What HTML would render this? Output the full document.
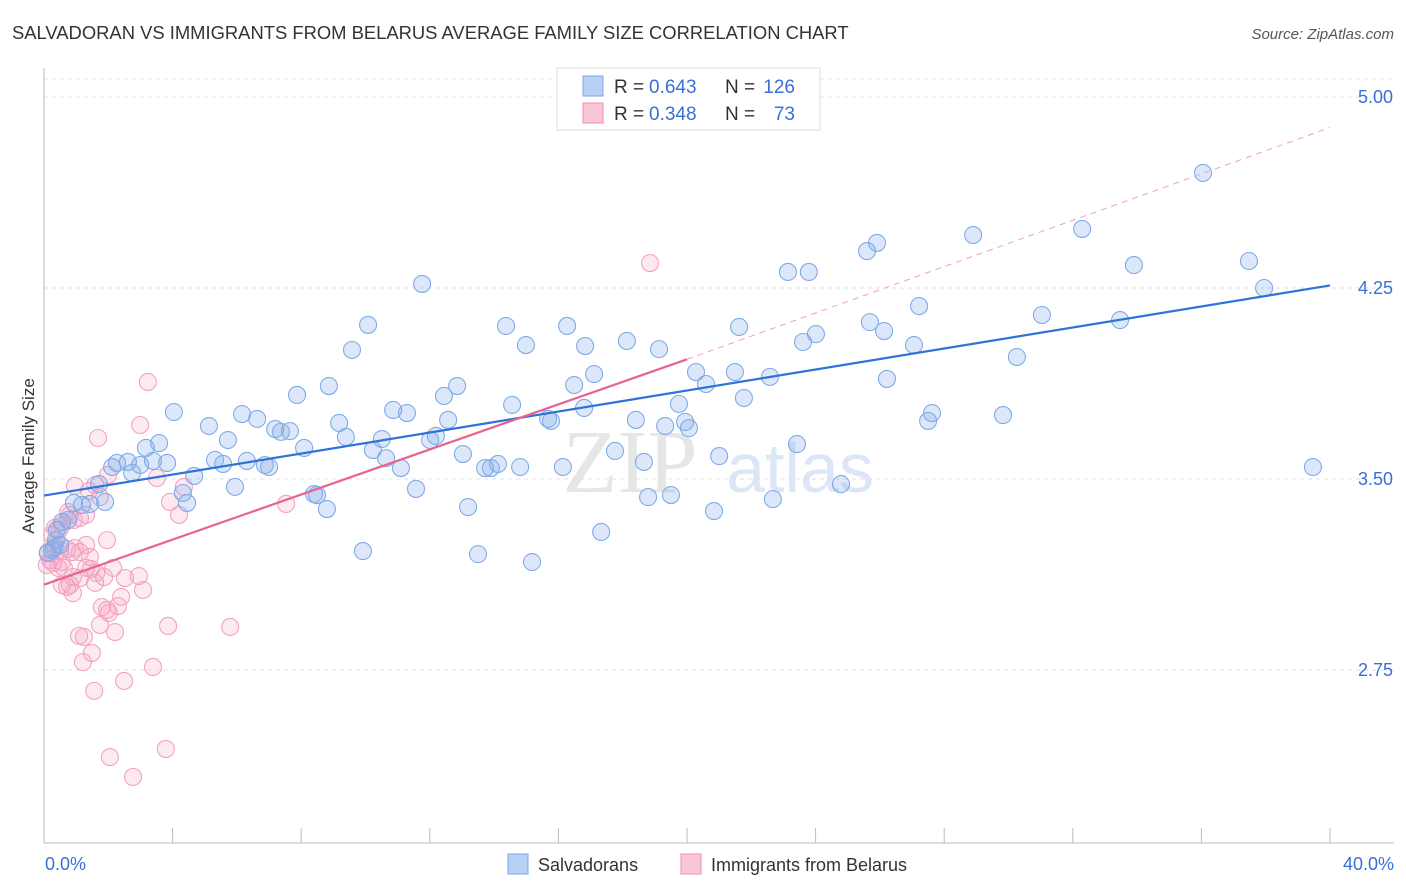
<!DOCTYPE html>
<html><head><meta charset="utf-8"><style>
body{margin:0;background:#fff;font-family:"Liberation Sans",sans-serif;}
svg{display:block}
</style></head><body>
<svg id="chart" width="1406" height="892">
<text x="12" y="39" font-size="18.4" fill="#333">SALVADORAN VS IMMIGRANTS FROM BELARUS AVERAGE FAMILY SIZE CORRELATION CHART</text>
<text x="1394" y="39" font-size="15" fill="#555" font-style="italic" text-anchor="end">Source: ZipAtlas.com</text>
<text x="630" y="492" font-size="90" fill="#e6e6e6" font-family="Liberation Serif,serif" text-anchor="middle">ZIP</text>
<text x="800" y="492" font-size="70" fill="#dbe7f6" text-anchor="middle">atlas</text>
<g id="grid"></g>
<g id="pts"></g>
<g id="lines"></g>
<text transform="translate(34,456) rotate(-90)" font-size="17" fill="#333" text-anchor="middle">Average Family Size</text>
<text x="45" y="870" font-size="18" fill="#3a6fd8">0.0%</text>
<text x="1394" y="870" font-size="18" fill="#3a6fd8" text-anchor="end">40.0%</text>
<g>
<rect x="557" y="68" width="263" height="62" fill="#fff" stroke="#ddd"/>
<rect x="583" y="76" width="20" height="20" fill="#b7d0f3" stroke="#7aa7e8"/>
<rect x="583" y="103" width="20" height="20" fill="#f9c6d8" stroke="#f08db0"/>
<text x="614" y="93" font-size="19" fill="#333">R =</text>
<text x="649" y="93" font-size="19" fill="#3a6fd8">0.643</text>
<text x="725" y="93" font-size="19" fill="#333">N =</text>
<text x="795" y="93" font-size="19" fill="#3a6fd8" text-anchor="end">126</text>
<text x="614" y="120" font-size="19" fill="#333">R =</text>
<text x="649" y="120" font-size="19" fill="#3a6fd8">0.348</text>
<text x="725" y="120" font-size="19" fill="#333">N =</text>
<text x="795" y="120" font-size="19" fill="#3a6fd8" text-anchor="end">73</text>
</g>
<g>
<rect x="508" y="854" width="20" height="20" fill="#b7d0f3" stroke="#7aa7e8"/>
<text x="538" y="871" font-size="18" fill="#333">Salvadorans</text>
<rect x="681" y="854" width="20" height="20" fill="#f9c6d8" stroke="#f08db0"/>
<text x="711" y="871" font-size="18" fill="#333">Immigrants from Belarus</text>
</g>
</svg>
<script>
const yTicks=[5.00,4.25,3.50,2.75];
const xTickVals=[0,4,8,12,16,20,24,28,32,36,40];
const bluePx=[[1203,173],[1249,261],[1264,288],[1313,467],[1082,229],[1134,265],[1120,320],[973,235],[877,243],[867,251],[919,306],[870,322],[884,331],[914,345],[1042,315],[1017,357],[1003,415],[932,413],[928,421],[887,379],[809,272],[788,272],[816,334],[803,342],[739,327],[735,372],[744,398],[770,377],[797,444],[773,499],[841,484],[696,372],[706,384],[679,404],[685,422],[689,428],[665,426],[636,420],[719,456],[714,511],[644,462],[648,497],[671,495],[627,341],[659,349],[567,326],[585,346],[526,345],[506,326],[574,385],[594,374],[584,408],[548,419],[551,421],[512,405],[563,467],[615,451],[601,532],[532,562],[478,554],[468,507],[491,468],[485,468],[498,464],[520,467],[463,454],[457,386],[444,396],[448,420],[436,436],[430,440],[422,284],[368,325],[352,350],[329,386],[297,395],[339,423],[346,437],[393,410],[407,413],[382,439],[373,450],[386,458],[401,468],[416,489],[363,551],[281,432],[275,429],[290,431],[304,448],[265,465],[269,467],[247,461],[242,414],[257,419],[228,440],[209,426],[215,460],[223,464],[235,487],[174,412],[159,443],[146,448],[153,461],[167,463],[194,476],[183,493],[187,503],[117,463],[128,462],[140,465],[132,473],[112,467],[314,494],[317,495],[327,509],[105,502],[99,484],[90,504],[82,505],[74,503],[68,520],[62,522],[57,530],[54,548],[52,550],[48,553],[56,540],[60,545]];
const pinkPx=[[650,263],[148,382],[98,438],[140,425],[108,475],[95,485],[75,486],[89,491],[100,497],[86,515],[80,518],[74,520],[70,515],[68,512],[62,525],[59,530],[55,528],[52,535],[55,545],[60,550],[48,552],[50,560],[53,563],[47,565],[58,568],[62,562],[64,568],[72,552],[75,548],[80,552],[86,545],[90,557],[107,540],[91,569],[80,578],[73,577],[70,585],[67,587],[62,585],[73,593],[95,583],[104,577],[113,568],[125,578],[139,576],[143,590],[121,597],[102,607],[107,610],[118,606],[109,613],[100,625],[115,632],[84,637],[79,636],[92,653],[83,662],[153,667],[94,691],[124,681],[110,757],[133,777],[166,749],[168,626],[230,627],[157,478],[170,502],[184,487],[179,515],[286,504],[86,568],[67,549],[96,573]];
const blueX=bluePx.map(p=>+((p[0]-44)/1286*40).toFixed(2));
const blueY=bluePx.map(p=>+(5-(p[1]-97)*0.75/191).toFixed(3));
const pinkX=pinkPx.map(p=>+((p[0]-44)/1286*40).toFixed(2));
const pinkY=pinkPx.map(p=>+(5-(p[1]-97)*0.75/191).toFixed(3));
const blueFit=[3.435,4.26];
const pinkFit=[3.085,3.97,4.88];
const NS="http://www.w3.org/2000/svg";
const sx=v=>44+v/40*1286, sy=v=>97+(5-v)/0.75*191;
function mk(t,a,p){const e=document.createElementNS(NS,t);for(const k in a)e.setAttribute(k,a[k]);p.appendChild(e);return e;}
const grid=document.getElementById('grid');
mk('line',{x1:44,x2:1394,y1:79,y2:79,stroke:'#e4e4e4','stroke-dasharray':'4,4'},grid);
yTicks.forEach(t=>{
 const l=mk('line',{x1:44,x2:1394,y1:sy(t),y2:sy(t),stroke:'#e0e0e0','stroke-dasharray':'4,4'},grid);
 
 
 const tx=mk('text',{x:1393,y:sy(t)+6,'font-size':18,fill:'#3a6fd8','text-anchor':'end'},grid);
 tx.textContent=t.toFixed(2);
 
 
});
mk('line',{x1:44,x2:44,y1:68,y2:843,stroke:'#bbb'},grid);
mk('line',{x1:44,x2:1394,y1:843,y2:843,stroke:'#bbb'},grid);
xTickVals.forEach(v=>{
 const l=mk('line',{x1:sx(v),x2:sx(v),y1:828,y2:843,stroke:'#bbb'},grid);
 
 
});
const pts=document.getElementById('pts');
pinkX.forEach((x,i)=>{
 const c=mk('circle',{cx:sx(x),cy:sy(pinkY[i]),r:8.5,fill:'rgba(244,160,190,0.22)',stroke:'#f3a3c0','stroke-width':1.1},pts);
 
 
});
blueX.forEach((x,i)=>{
 const c=mk('circle',{cx:sx(x),cy:sy(blueY[i]),r:8.5,fill:'rgba(130,172,235,0.28)',stroke:'#80abe8','stroke-width':1.1},pts);
 
 
});
const lines=document.getElementById('lines');
const bl=mk('line',{x1:sx(0),y1:sy(blueFit[0]),x2:sx(40),y2:sy(blueFit[1]),stroke:'#2f72d8','stroke-width':2.2},lines);


const pl=mk('line',{x1:sx(0),y1:sy(pinkFit[0]),x2:sx(20),y2:sy(pinkFit[1]),stroke:'#e8638f','stroke-width':2.2},lines);


const pd=mk('line',{x1:sx(20),y1:sy(pinkFit[1]),x2:sx(40),y2:sy(pinkFit[2]),stroke:'#f0a0bb','stroke-width':1,'stroke-dasharray':'6,5'},lines);


</script>
</body></html>
